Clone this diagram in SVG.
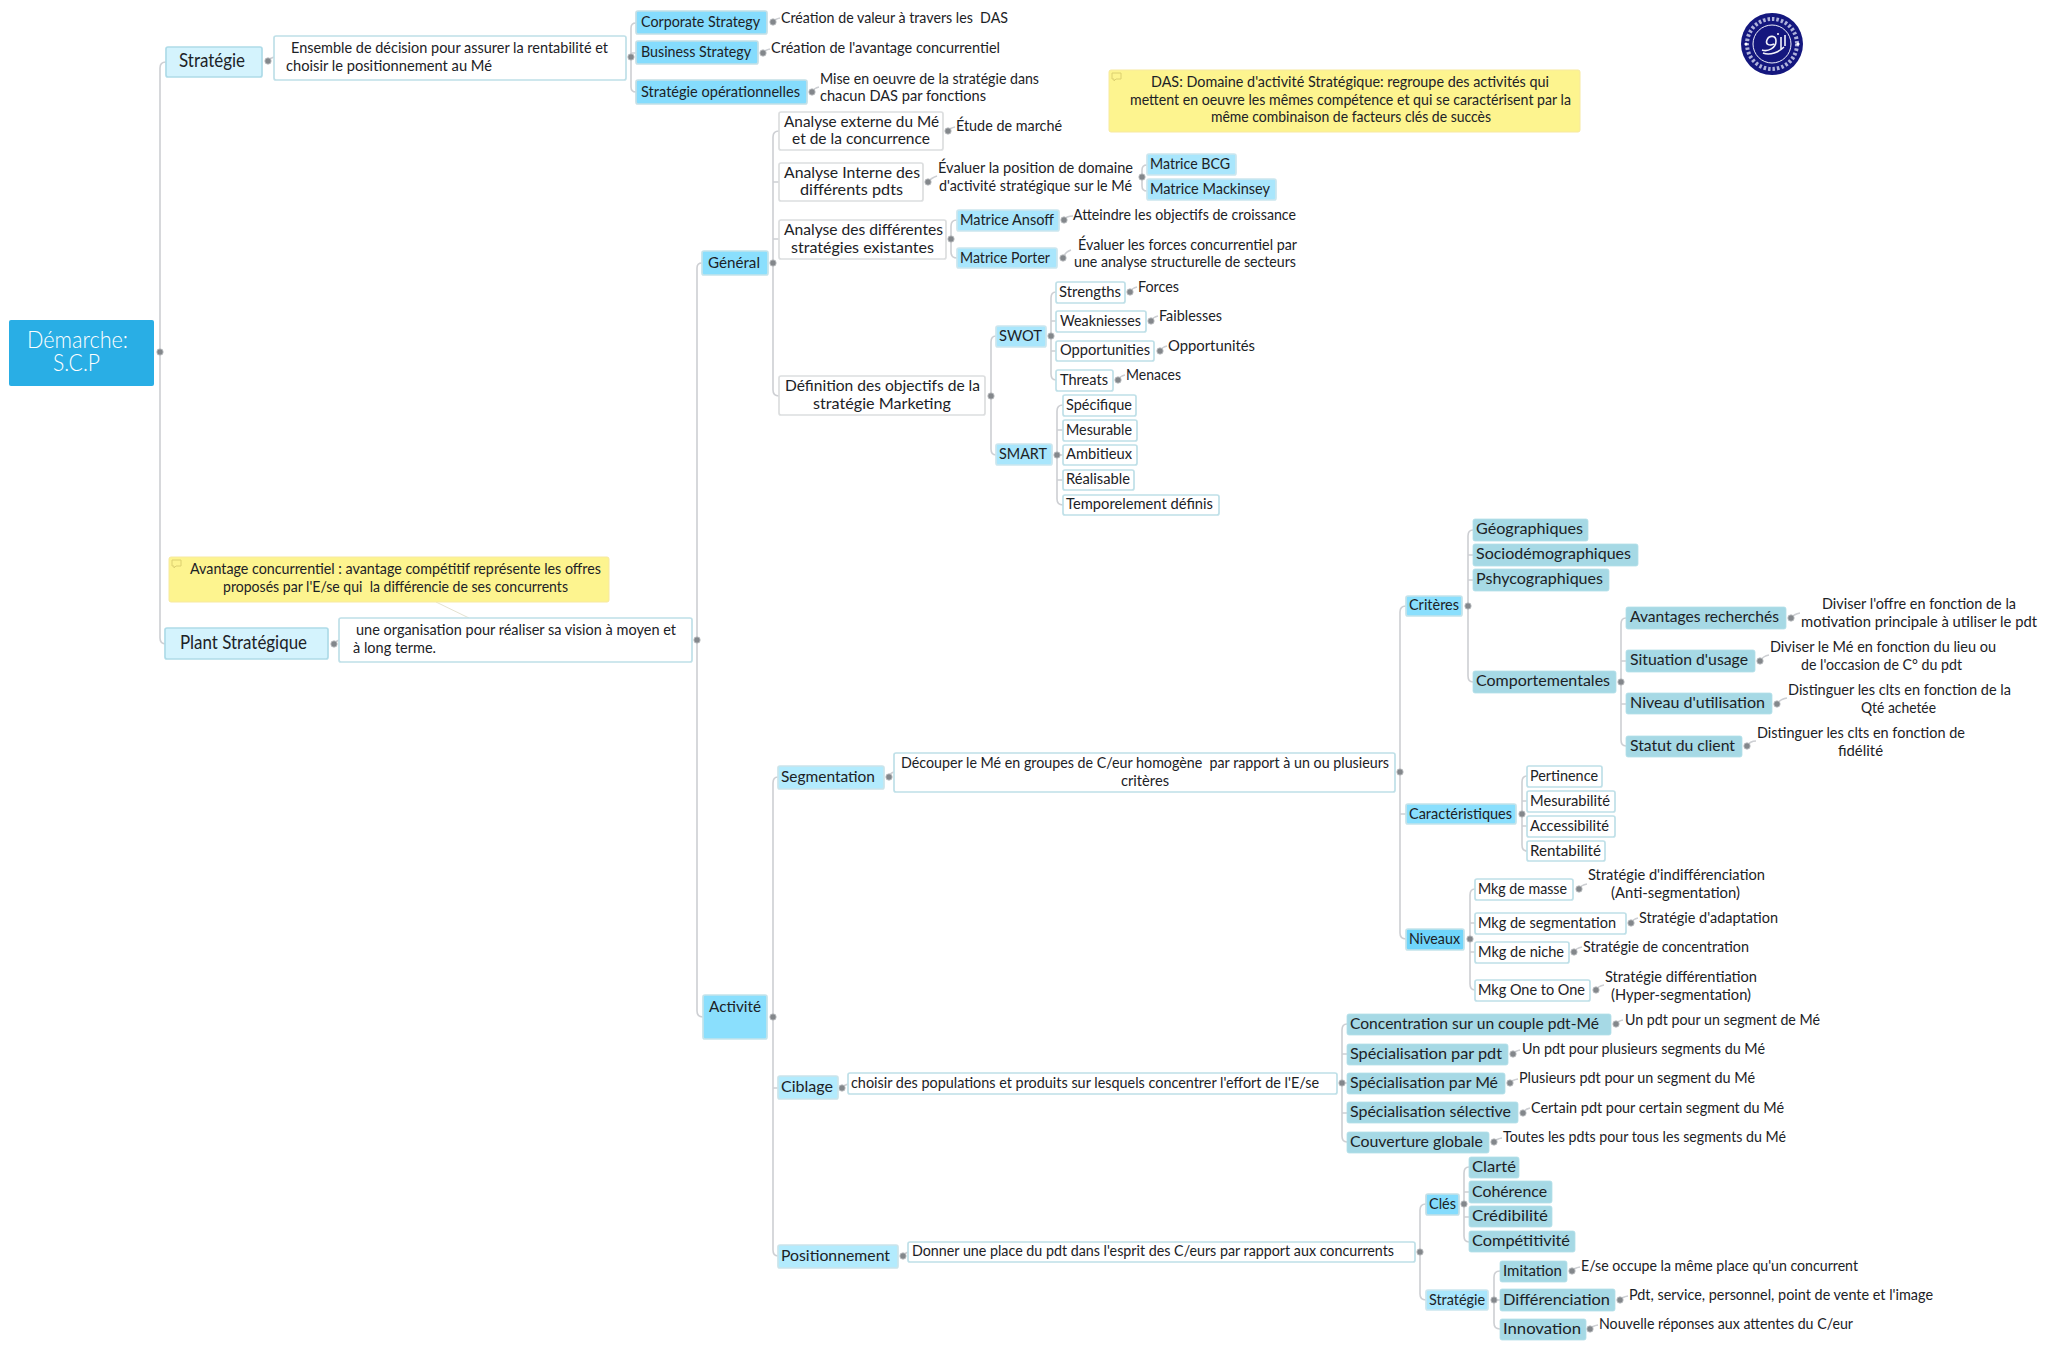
<svg xmlns="http://www.w3.org/2000/svg" width="2048" height="1348" viewBox="0 0 2048 1348">
<style>
text{font-family:"Lato","Open Sans","Liberation Sans",sans-serif;font-size:15px;fill:#1c2226;white-space:pre}
.big{font-size:19px}.root{font-size:23px;fill:#fff;font-weight:300}
rect{rx:2px;stroke-width:1.7}
.w{fill:#fff;stroke:#bfe0e8}.s{fill:#85dcfd;stroke:#c4dfe6}.m{fill:#a9e6fc;stroke:#cbe6ee}.g{fill:#8adffd;stroke:#c4e3ea}.p{fill:#d4f3fd;stroke:#aedbe8}.b{fill:#b3ebfd;stroke:#cbe4ea}.t{fill:#a6d9e5;stroke:#b4dfe8;stroke-width:.8}.y{fill:#fdf48f;stroke:#f7e9a0;stroke-width:1}.dk{fill:#6fd5fb;stroke:#c4e3ea}
.gw{fill:#fff;stroke:#dcdedf}
.c path{fill:none;stroke:#cdcfd3;stroke-width:1.6}.c circle{fill:#83878b;stroke:#c2c4c6;stroke-width:.8;r:3.200px}
</style>
<g id="connectors" class="c">
<path d="M166 62Q160 62 160 68V638Q160 644 166 644"/>
<path d="M268 61Q270 58 274 57"/><path d="M334 644Q336 641 339 640"/>
<path d="M636 23Q631 23 631 28V87Q631 92 636 92M631 53H636"/>
<path d="M702 263Q697 263 697 268V1011Q697 1017 703 1017"/>
<path d="M436 602L469 618" style="stroke:#e4e2d0;stroke-width:1"/>
<path d="M779 131Q773 131 773 137V390Q773 396 779 396M773 182H779M773 239H779"/>
<path d="M778 777Q773 777 773 783V1250Q773 1256 778 1256M773 1088H778"/>
<path d="M948 131Q950 128 955 127M928 182Q931 178 937 176M1073 216Q1066 216 1064 220M1071 250Q1065 252 1063 258M773 22Q775 19 780 18M763 53Q765 50 770 49M812 92Q814 88 819 87"/>
<path d="M1147 165Q1142 165 1142 170V186Q1142 191 1147 191"/>
<path d="M957 220Q951 220 951 226V252Q951 258 957 258"/>
<path d="M996 336Q991 336 991 342V449Q991 455 996 455"/>
<path d="M1056 292Q1051 292 1051 298V374Q1051 380 1056 380M1051 321H1056M1051 351H1056"/>
<path d="M1063 405Q1057 405 1057 411V499Q1057 505 1063 505M1057 430H1063M1057 455H1063M1057 480H1063"/>
<path d="M1130 292Q1132 288 1137 287M1151 321Q1153 317 1158 316M1160 351Q1162 347 1167 346M1118 380Q1120 376 1125 375"/>
<path d="M888 777Q890 773 894 772"/>
<path d="M1406 606Q1400 606 1400 612V933Q1400 939 1406 939M1400 814H1406"/>
<path d="M1473 530Q1468 530 1468 536V676Q1468 682 1473 682M1468 555H1473M1468 580H1473"/>
<path d="M1626 618Q1621 618 1621 624V740Q1621 746 1626 746M1621 661H1626M1621 704H1626"/>
<path d="M1527 776Q1522 776 1522 782V845Q1522 851 1527 851M1522 801H1527M1522 826H1527"/>
<path d="M1475 889Q1470 889 1470 895V984Q1470 990 1475 990M1470 923H1475M1470 952H1475"/>
<path d="M1791 618Q1794 614 1800 613M1760 661Q1763 656 1769 655M1777 704Q1780 699 1787 698M1747 746Q1750 741 1756 741M1579 889Q1581 885 1587 884M1631 923Q1633 919 1638 918M1574 952Q1576 948 1582 947M1596 990Q1598 986 1604 985"/>
<path d="M1347 1024Q1342 1024 1342 1030V1136Q1342 1142 1347 1142M1342 1054H1347M1342 1083H1347M1342 1113H1347"/>
<path d="M842 1088Q844 1085 848 1084M903 1256Q905 1253 908 1252"/>
<path d="M1616 1024Q1618 1021 1623 1020M1513 1054Q1515 1051 1520 1050M1510 1083Q1512 1080 1518 1079M1523 1113Q1525 1109 1530 1108M1494 1142Q1496 1139 1502 1138"/>
<path d="M1426 1204Q1420 1204 1420 1210V1294Q1420 1300 1426 1300"/>
<path d="M1469 1167Q1464 1167 1464 1173V1236Q1464 1242 1469 1242M1464 1192H1469M1464 1217H1469"/>
<path d="M1500 1271Q1494 1271 1494 1277V1323Q1494 1329 1500 1329M1494 1300H1500"/>
<path d="M1572 1271Q1574 1268 1580 1267M1620 1300Q1622 1297 1628 1296M1590 1329Q1592 1326 1598 1325"/>
<circle cx="160" cy="352" r="3"/><circle cx="268" cy="61" r="3"/><circle cx="631" cy="57" r="3"/><circle cx="334" cy="644" r="3"/><circle cx="697" cy="640" r="3"/>
<circle cx="773" cy="22" r="3"/><circle cx="763" cy="53" r="3"/><circle cx="812" cy="92" r="3"/>
<circle cx="773" cy="263" r="3"/><circle cx="773" cy="1017" r="3"/><circle cx="948" cy="131" r="3"/><circle cx="928" cy="182" r="3"/><circle cx="1142" cy="177" r="3"/><circle cx="951" cy="239" r="3"/><circle cx="1064" cy="220" r="3"/><circle cx="1063" cy="258" r="3"/><circle cx="991" cy="396" r="3"/><circle cx="1051" cy="336" r="3"/><circle cx="1057" cy="455" r="3"/><circle cx="1130" cy="292" r="3"/><circle cx="1151" cy="321" r="3"/><circle cx="1160" cy="351" r="3"/><circle cx="1118" cy="380" r="3"/>
<circle cx="889" cy="777" r="3"/><circle cx="1400" cy="772" r="3"/><circle cx="1468" cy="606" r="3"/><circle cx="1621" cy="682" r="3"/><circle cx="1791" cy="618" r="3"/><circle cx="1760" cy="661" r="3"/><circle cx="1777" cy="704" r="3"/><circle cx="1747" cy="746" r="3"/><circle cx="1522" cy="814" r="3"/><circle cx="1470" cy="939" r="3"/><circle cx="1579" cy="889" r="3"/><circle cx="1631" cy="923" r="3"/><circle cx="1574" cy="952" r="3"/><circle cx="1596" cy="990" r="3"/>
<circle cx="842" cy="1088" r="3"/><circle cx="1342" cy="1083" r="3"/><circle cx="1616" cy="1024" r="3"/><circle cx="1513" cy="1054" r="3"/><circle cx="1510" cy="1083" r="3"/><circle cx="1523" cy="1113" r="3"/><circle cx="1494" cy="1142" r="3"/>
<circle cx="903" cy="1256" r="3"/><circle cx="1420" cy="1252" r="3"/><circle cx="1464" cy="1204" r="3"/><circle cx="1494" cy="1300" r="3"/><circle cx="1572" cy="1271" r="3"/><circle cx="1620" cy="1300" r="3"/><circle cx="1590" cy="1329" r="3"/>
</g>
<g id="root"><rect x="9" y="320" width="145" height="66" fill="#29aee5" style="stroke:none"/><text class="root" x="27" y="348" textLength="101" lengthAdjust="spacingAndGlyphs">Démarche:</text><text class="root" x="53" y="371" textLength="47" lengthAdjust="spacingAndGlyphs">S.C.P</text></g>
<g id="strategie"><rect class="p" x="166" y="47" width="96" height="30"/><text class="big" x="179" y="67" textLength="66" lengthAdjust="spacingAndGlyphs">Stratégie</text></g>
<g id="ensemble"><rect class="w" x="274" y="36" width="352" height="44"/><text x="291" y="53" textLength="317" lengthAdjust="spacingAndGlyphs">Ensemble de décision pour assurer la rentabilité et</text><text x="286" y="71" textLength="206" lengthAdjust="spacingAndGlyphs">choisir le positionnement au Mé</text></g>
<g id="corporate"><rect class="s" x="636" y="11" width="131" height="23"/><text x="641" y="27" textLength="119" lengthAdjust="spacingAndGlyphs">Corporate Strategy</text></g>
<g id="business"><rect class="s" x="636" y="41" width="122" height="23"/><text x="641" y="57" textLength="110" lengthAdjust="spacingAndGlyphs">Business Strategy</text></g>
<g id="operationnelles"><rect class="s" x="636" y="80" width="171" height="24"/><text x="641" y="97" textLength="159" lengthAdjust="spacingAndGlyphs">Stratégie opérationnelles</text></g>
<g id="t-das"><text x="781" y="23" textLength="227" lengthAdjust="spacingAndGlyphs">Création de valeur à travers les  DAS</text></g>
<g id="t-avantage"><text x="771" y="53" textLength="229" lengthAdjust="spacingAndGlyphs">Création de l'avantage concurrentiel</text></g>
<g id="t-mise"><text x="820" y="84" textLength="219" lengthAdjust="spacingAndGlyphs">Mise en oeuvre de la stratégie dans</text><text x="820" y="101" textLength="166" lengthAdjust="spacingAndGlyphs">chacun DAS par fonctions</text></g>
<g id="note-das"><rect class="y" x="1109" y="70" width="471" height="62"/><path d="M1112 73h9v6h-5l-2 2v-2h-2z" fill="none" stroke="#dcd070"/><text x="1151" y="87" textLength="398" lengthAdjust="spacingAndGlyphs">DAS: Domaine d'activité Stratégique: regroupe des activités qui</text><text x="1130" y="105" textLength="441" lengthAdjust="spacingAndGlyphs">mettent en oeuvre les mêmes compétence et qui se caractérisent par la</text><text x="1211" y="122" textLength="280" lengthAdjust="spacingAndGlyphs">même combinaison de facteurs clés de succès</text></g>
<g id="logo"><circle cx="1772" cy="44" r="31" fill="#14177e"/><circle cx="1772" cy="44" r="25" fill="none" stroke="#aeb1da" stroke-width="4" stroke-dasharray="2.500 2"/><circle cx="1772" cy="44" r="19" fill="#14177e" stroke="#eef0fa" stroke-width="1"/><path d="M1762 50C1768 52 1776 48 1776 41C1776 35 1769 35 1767 40C1765 45 1770 46 1774 44M1763 53C1770 56 1779 52 1784 47M1781 37V49M1785 35V46" fill="none" stroke="#f2f3fa" stroke-width="1.600"/><circle cx="1778" cy="34" r="1" fill="#fff"/><circle cx="1746" cy="44" r="1.600" fill="#fff"/><circle cx="1798" cy="44" r="1.600" fill="#fff"/></g>
<g id="general"><rect class="g" x="702" y="251" width="66" height="24"/><text x="708" y="268" textLength="52" lengthAdjust="spacingAndGlyphs">Général</text></g>
<g id="externe"><rect class="gw" x="779" y="112" width="164" height="38"/><text x="784" y="127" textLength="155" lengthAdjust="spacingAndGlyphs">Analyse externe du Mé</text><text x="792" y="144" textLength="138" lengthAdjust="spacingAndGlyphs">et de la concurrence</text></g>
<g id="t-etude"><text x="956" y="131" textLength="106" lengthAdjust="spacingAndGlyphs">Étude de marché</text></g>
<g id="interne"><rect class="gw" x="779" y="163" width="144" height="38"/><text x="784" y="178" textLength="136" lengthAdjust="spacingAndGlyphs">Analyse Interne des</text><text x="800" y="195" textLength="103" lengthAdjust="spacingAndGlyphs">différents pdts</text></g>
<g id="t-evaluer"><text x="938" y="173" textLength="195" lengthAdjust="spacingAndGlyphs">Évaluer la position de domaine</text><text x="939" y="191" textLength="193" lengthAdjust="spacingAndGlyphs">d'activité stratégique sur le Mé</text></g>
<g id="bcg"><rect class="m" x="1147" y="154" width="89" height="21"/><text x="1150" y="169" textLength="80" lengthAdjust="spacingAndGlyphs">Matrice BCG</text></g>
<g id="mackinsey"><rect class="m" x="1147" y="179" width="129" height="21"/><text x="1150" y="194" textLength="120" lengthAdjust="spacingAndGlyphs">Matrice Mackinsey</text></g>
<g id="differentes"><rect class="gw" x="779" y="220" width="167" height="39"/><text x="784" y="235" textLength="159" lengthAdjust="spacingAndGlyphs">Analyse des différentes</text><text x="791" y="253" textLength="143" lengthAdjust="spacingAndGlyphs">stratégies existantes</text></g>
<g id="ansoff"><rect class="m" x="957" y="210" width="102" height="21"/><text x="960" y="225" textLength="94" lengthAdjust="spacingAndGlyphs">Matrice Ansoff</text></g>
<g id="porter"><rect class="m" x="957" y="248" width="100" height="20"/><text x="960" y="263" textLength="90" lengthAdjust="spacingAndGlyphs">Matrice Porter</text></g>
<g id="t-atteindre"><text x="1073" y="220" textLength="223" lengthAdjust="spacingAndGlyphs">Atteindre les objectifs de croissance</text></g>
<g id="t-forces"><text x="1078" y="250" textLength="219" lengthAdjust="spacingAndGlyphs">Évaluer les forces concurrentiel par</text><text x="1074" y="267" textLength="222" lengthAdjust="spacingAndGlyphs">une analyse structurelle de secteurs</text></g>
<g id="definition"><rect class="gw" x="779" y="376" width="206" height="39"/><text x="785" y="391" textLength="195" lengthAdjust="spacingAndGlyphs">Définition des objectifs de la</text><text x="813" y="409" textLength="138" lengthAdjust="spacingAndGlyphs">stratégie Marketing</text></g>
<g id="swot"><rect class="m" x="996" y="326" width="50" height="21"/><text x="999" y="341" textLength="43" lengthAdjust="spacingAndGlyphs">SWOT</text></g>
<g id="smart"><rect class="m" x="996" y="444" width="56" height="21"/><text x="999" y="459" textLength="48" lengthAdjust="spacingAndGlyphs">SMART</text></g>
<g id="strengths"><rect class="w" x="1056" y="282" width="69" height="21"/><text x="1059" y="297" textLength="62" lengthAdjust="spacingAndGlyphs">Strengths</text></g>
<g id="weakniesses"><rect class="w" x="1056" y="311" width="90" height="21"/><text x="1060" y="326" textLength="81" lengthAdjust="spacingAndGlyphs">Weakniesses</text></g>
<g id="opportunities"><rect class="w" x="1056" y="341" width="98" height="20"/><text x="1060" y="355" textLength="90" lengthAdjust="spacingAndGlyphs">Opportunities</text></g>
<g id="threats"><rect class="w" x="1056" y="370" width="57" height="21"/><text x="1060" y="385" textLength="48" lengthAdjust="spacingAndGlyphs">Threats</text></g>
<g id="t-swot"><text x="1138" y="292" textLength="41" lengthAdjust="spacingAndGlyphs">Forces</text><text x="1159" y="321" textLength="63" lengthAdjust="spacingAndGlyphs">Faiblesses</text><text x="1168" y="351" textLength="87" lengthAdjust="spacingAndGlyphs">Opportunités</text><text x="1126" y="380" textLength="55" lengthAdjust="spacingAndGlyphs">Menaces</text></g>
<g id="specifique"><rect class="w" x="1063" y="395" width="73" height="21"/><text x="1066" y="410" textLength="66" lengthAdjust="spacingAndGlyphs">Spécifique</text></g>
<g id="mesurable"><rect class="w" x="1063" y="420" width="74" height="21"/><text x="1066" y="435" textLength="66" lengthAdjust="spacingAndGlyphs">Mesurable</text></g>
<g id="ambitieux"><rect class="w" x="1063" y="445" width="74" height="20"/><text x="1066" y="459" textLength="66" lengthAdjust="spacingAndGlyphs">Ambitieux</text></g>
<g id="realisable"><rect class="w" x="1063" y="470" width="71" height="20"/><text x="1066" y="484" textLength="64" lengthAdjust="spacingAndGlyphs">Réalisable</text></g>
<g id="temporelement"><rect class="w" x="1063" y="495" width="156" height="20"/><text x="1066" y="509" textLength="147" lengthAdjust="spacingAndGlyphs">Temporelement définis</text></g>
<g id="note-avantage"><rect class="y" x="169" y="557" width="440" height="45"/><path d="M172 560h9v6h-5l-2 2v-2h-2z" fill="none" stroke="#dcd070"/><text x="190" y="574" textLength="411" lengthAdjust="spacingAndGlyphs">Avantage concurrentiel : avantage compétitif représente les offres</text><text x="223" y="592" textLength="345" lengthAdjust="spacingAndGlyphs">proposés par l'E/se qui  la différencie de ses concurrents</text></g>
<g id="plant"><rect class="p" x="165" y="628" width="163" height="31"/><text class="big" x="180" y="649" textLength="127" lengthAdjust="spacingAndGlyphs">Plant Stratégique</text></g>
<g id="organisation"><rect class="w" x="339" y="618" width="353" height="44"/><text x="356" y="635" textLength="320" lengthAdjust="spacingAndGlyphs">une organisation pour réaliser sa vision à moyen et</text><text x="353" y="653" textLength="83" lengthAdjust="spacingAndGlyphs">à long terme.</text></g>
<g id="activite"><rect class="g" x="703" y="995" width="64" height="44"/><text x="709" y="1012" textLength="52" lengthAdjust="spacingAndGlyphs">Activité</text></g>
<g id="segmentation"><rect class="b" x="778" y="766" width="106" height="23"/><text x="781" y="782" textLength="94" lengthAdjust="spacingAndGlyphs">Segmentation</text></g>
<g id="decouper"><rect class="w" x="894" y="753" width="501" height="39"/><text x="901" y="768" textLength="488" lengthAdjust="spacingAndGlyphs">Découper le Mé en groupes de C/eur homogène  par rapport à un ou plusieurs</text><text x="1121" y="786" textLength="48" lengthAdjust="spacingAndGlyphs">critères</text></g>
<g id="criteres"><rect class="g" x="1406" y="596" width="56" height="20"/><text x="1409" y="610" textLength="50" lengthAdjust="spacingAndGlyphs">Critères</text></g>
<g id="geographiques"><rect class="t" x="1473" y="519" width="115" height="22"/><text x="1476" y="534" textLength="107" lengthAdjust="spacingAndGlyphs">Géographiques</text></g>
<g id="socio"><rect class="t" x="1473" y="544" width="165" height="22"/><text x="1476" y="559" textLength="155" lengthAdjust="spacingAndGlyphs">Sociodémographiques</text></g>
<g id="pshyco"><rect class="t" x="1473" y="569" width="136" height="22"/><text x="1476" y="584" textLength="127" lengthAdjust="spacingAndGlyphs">Pshycographiques</text></g>
<g id="comportementales"><rect class="t" x="1473" y="671" width="143" height="22"/><text x="1476" y="686" textLength="134" lengthAdjust="spacingAndGlyphs">Comportementales</text></g>
<g id="avantages"><rect class="t" x="1626" y="607" width="160" height="22"/><text x="1630" y="622" textLength="149" lengthAdjust="spacingAndGlyphs">Avantages recherchés</text></g>
<g id="situation"><rect class="t" x="1626" y="650" width="129" height="22"/><text x="1630" y="665" textLength="118" lengthAdjust="spacingAndGlyphs">Situation d'usage</text></g>
<g id="niveau"><rect class="t" x="1626" y="693" width="146" height="21"/><text x="1630" y="708" textLength="135" lengthAdjust="spacingAndGlyphs">Niveau d'utilisation</text></g>
<g id="statut"><rect class="t" x="1626" y="736" width="116" height="21"/><text x="1630" y="751" textLength="105" lengthAdjust="spacingAndGlyphs">Statut du client</text></g>
<g id="t-comport"><text x="1822" y="609" textLength="194" lengthAdjust="spacingAndGlyphs">Diviser l'offre en fonction de la</text><text x="1801" y="627" textLength="236" lengthAdjust="spacingAndGlyphs">motivation principale à utiliser le pdt</text><text x="1770" y="652" textLength="226" lengthAdjust="spacingAndGlyphs">Diviser le Mé en fonction du lieu ou</text><text x="1801" y="670" textLength="161" lengthAdjust="spacingAndGlyphs">de l'occasion de C° du pdt</text><text x="1788" y="695" textLength="223" lengthAdjust="spacingAndGlyphs">Distinguer les clts en fonction de la</text><text x="1861" y="713" textLength="75" lengthAdjust="spacingAndGlyphs">Qté achetée</text><text x="1757" y="738" textLength="208" lengthAdjust="spacingAndGlyphs">Distinguer les clts en fonction de</text><text x="1838" y="756" textLength="45" lengthAdjust="spacingAndGlyphs">fidélité</text></g>
<g id="caracteristiques"><rect class="g" x="1406" y="804" width="110" height="20"/><text x="1409" y="819" textLength="103" lengthAdjust="spacingAndGlyphs">Caractéristiques</text></g>
<g id="pertinence"><rect class="w" x="1527" y="766" width="75" height="21"/><text x="1530" y="781" textLength="68" lengthAdjust="spacingAndGlyphs">Pertinence</text></g>
<g id="mesurabilite"><rect class="w" x="1527" y="791" width="88" height="21"/><text x="1530" y="806" textLength="80" lengthAdjust="spacingAndGlyphs">Mesurabilité</text></g>
<g id="accessibilite"><rect class="w" x="1527" y="816" width="88" height="21"/><text x="1530" y="831" textLength="79" lengthAdjust="spacingAndGlyphs">Accessibilité</text></g>
<g id="rentabilite"><rect class="w" x="1527" y="841" width="78" height="20"/><text x="1530" y="856" textLength="71" lengthAdjust="spacingAndGlyphs">Rentabilité</text></g>
<g id="niveaux"><rect class="dk" x="1406" y="929" width="58" height="21"/><text x="1409" y="944" textLength="51" lengthAdjust="spacingAndGlyphs">Niveaux</text></g>
<g id="masse"><rect class="w" x="1475" y="879" width="98" height="21"/><text x="1478" y="894" textLength="89" lengthAdjust="spacingAndGlyphs">Mkg de masse</text></g>
<g id="mkgseg"><rect class="w" x="1475" y="913" width="151" height="21"/><text x="1478" y="928" textLength="138" lengthAdjust="spacingAndGlyphs">Mkg de segmentation</text></g>
<g id="niche"><rect class="w" x="1475" y="942" width="94" height="21"/><text x="1478" y="957" textLength="86" lengthAdjust="spacingAndGlyphs">Mkg de niche</text></g>
<g id="one"><rect class="w" x="1475" y="980" width="115" height="21"/><text x="1478" y="995" textLength="107" lengthAdjust="spacingAndGlyphs">Mkg One to One</text></g>
<g id="t-niveaux"><text x="1588" y="880" textLength="177" lengthAdjust="spacingAndGlyphs">Stratégie d'indifférenciation</text><text x="1611" y="898" textLength="129" lengthAdjust="spacingAndGlyphs">(Anti-segmentation)</text><text x="1639" y="923" textLength="139" lengthAdjust="spacingAndGlyphs">Stratégie d'adaptation</text><text x="1583" y="952" textLength="166" lengthAdjust="spacingAndGlyphs">Stratégie de concentration</text><text x="1605" y="982" textLength="152" lengthAdjust="spacingAndGlyphs">Stratégie différentiation</text><text x="1611" y="1000" textLength="140" lengthAdjust="spacingAndGlyphs">(Hyper-segmentation)</text></g>
<g id="ciblage"><rect class="b" x="778" y="1076" width="60" height="23"/><text x="781" y="1092" textLength="52" lengthAdjust="spacingAndGlyphs">Ciblage</text></g>
<g id="choisir"><rect class="w" x="848" y="1073" width="489" height="21"/><text x="851" y="1088" textLength="468" lengthAdjust="spacingAndGlyphs">choisir des populations et produits sur lesquels concentrer l'effort de l'E/se</text></g>
<g id="concentration"><rect class="t" x="1347" y="1014" width="264" height="21"/><text x="1350" y="1029" textLength="249" lengthAdjust="spacingAndGlyphs">Concentration sur un couple pdt-Mé</text></g>
<g id="specpdt"><rect class="t" x="1347" y="1044" width="161" height="21"/><text x="1350" y="1059" textLength="152" lengthAdjust="spacingAndGlyphs">Spécialisation par pdt</text></g>
<g id="specme"><rect class="t" x="1347" y="1073" width="158" height="21"/><text x="1350" y="1088" textLength="148" lengthAdjust="spacingAndGlyphs">Spécialisation par Mé</text></g>
<g id="specsel"><rect class="t" x="1347" y="1102" width="171" height="21"/><text x="1350" y="1117" textLength="161" lengthAdjust="spacingAndGlyphs">Spécialisation sélective</text></g>
<g id="couverture"><rect class="t" x="1347" y="1132" width="142" height="21"/><text x="1350" y="1147" textLength="133" lengthAdjust="spacingAndGlyphs">Couverture globale</text></g>
<g id="t-ciblage"><text x="1625" y="1025" textLength="195" lengthAdjust="spacingAndGlyphs">Un pdt pour un segment de Mé</text><text x="1522" y="1054" textLength="243" lengthAdjust="spacingAndGlyphs">Un pdt pour plusieurs segments du Mé</text><text x="1519" y="1083" textLength="236" lengthAdjust="spacingAndGlyphs">Plusieurs pdt pour un segment du Mé</text><text x="1531" y="1113" textLength="253" lengthAdjust="spacingAndGlyphs">Certain pdt pour certain segment du Mé</text><text x="1503" y="1142" textLength="283" lengthAdjust="spacingAndGlyphs">Toutes les pdts pour tous les segments du Mé</text></g>
<g id="positionnement"><rect class="b" x="778" y="1245" width="120" height="23"/><text x="781" y="1261" textLength="109" lengthAdjust="spacingAndGlyphs">Positionnement</text></g>
<g id="donner"><rect class="w" x="908" y="1242" width="507" height="20"/><text x="912" y="1256" textLength="482" lengthAdjust="spacingAndGlyphs">Donner une place du pdt dans l'esprit des C/eurs par rapport aux concurrents</text></g>
<g id="cles"><rect class="s" x="1426" y="1194" width="33" height="21"/><text x="1429" y="1209" textLength="27" lengthAdjust="spacingAndGlyphs">Clés</text></g>
<g id="clarte"><rect class="t" x="1469" y="1157" width="50" height="21"/><text x="1472" y="1172" textLength="44" lengthAdjust="spacingAndGlyphs">Clarté</text></g>
<g id="coherence"><rect class="t" x="1469" y="1181" width="83" height="22"/><text x="1472" y="1197" textLength="75" lengthAdjust="spacingAndGlyphs">Cohérence</text></g>
<g id="credibilite"><rect class="t" x="1469" y="1206" width="83" height="21"/><text x="1472" y="1221" textLength="76" lengthAdjust="spacingAndGlyphs">Crédibilité</text></g>
<g id="competitivite"><rect class="t" x="1469" y="1231" width="106" height="21"/><text x="1472" y="1246" textLength="98" lengthAdjust="spacingAndGlyphs">Compétitivité</text></g>
<g id="strategie2"><rect class="m" x="1426" y="1290" width="62" height="20"/><text x="1429" y="1305" textLength="56" lengthAdjust="spacingAndGlyphs">Stratégie</text></g>
<g id="imitation"><rect class="t" x="1500" y="1261" width="67" height="21"/><text x="1503" y="1276" textLength="59" lengthAdjust="spacingAndGlyphs">Imitation</text></g>
<g id="differenciation"><rect class="t" x="1500" y="1289" width="115" height="22"/><text x="1503" y="1305" textLength="107" lengthAdjust="spacingAndGlyphs">Différenciation</text></g>
<g id="innovation"><rect class="t" x="1500" y="1319" width="86" height="21"/><text x="1503" y="1334" textLength="78" lengthAdjust="spacingAndGlyphs">Innovation</text></g>
<g id="t-position"><text x="1581" y="1271" textLength="277" lengthAdjust="spacingAndGlyphs">E/se occupe la même place qu'un concurrent</text><text x="1629" y="1300" textLength="304" lengthAdjust="spacingAndGlyphs">Pdt, service, personnel, point de vente et l'image</text><text x="1599" y="1329" textLength="254" lengthAdjust="spacingAndGlyphs">Nouvelle réponses aux attentes du C/eur</text></g>
</svg>
